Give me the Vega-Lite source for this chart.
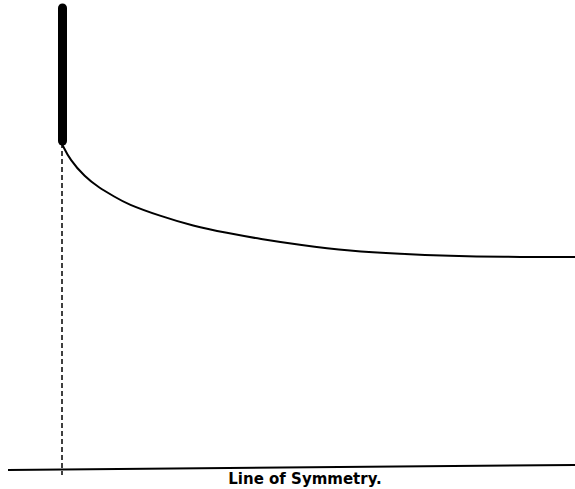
{
  "$schema": "https://vega.github.io/schema/vega-lite/v6.json",
  "width": 575,
  "height": 489,
  "padding": 0,
  "autosize": {"type": "none"},
  "background": "white",
  "config": {"view": {"stroke": null}},
  "layer": [
    {
      "data": {"values": [{"x": 8, "y": 19}, {"x": 575, "y": 24}]},
      "mark": {"type": "line", "color": "black", "strokeWidth": 2},
      "encoding": {
        "x": {"field": "x", "type": "quantitative", "scale": {"domain": [0, 575], "nice": false, "zero": false}, "axis": null},
        "y": {"field": "y", "type": "quantitative", "scale": {"domain": [0, 489], "nice": false, "zero": false}, "axis": null}
      }
    },
    {
      "data": {"values": [{"x": 62, "y": 346, "y2": 14}]},
      "mark": {"type": "rule", "color": "black", "strokeWidth": 1.5, "strokeDash": [5, 3]},
      "encoding": {
        "x": {"field": "x", "type": "quantitative"},
        "y": {"field": "y", "type": "quantitative"},
        "y2": {"field": "y2"}
      }
    },
    {
      "data": {"values": [
        {"x": 62, "y": 345}, {"x": 70, "y": 329}, {"x": 85, "y": 312}, {"x": 98, "y": 302},
        {"x": 115, "y": 292}, {"x": 127, "y": 285}, {"x": 160, "y": 273},
        {"x": 193, "y": 263}, {"x": 227, "y": 256}, {"x": 260, "y": 250}, {"x": 300, "y": 244},
        {"x": 350, "y": 238}, {"x": 400, "y": 235}, {"x": 450, "y": 233}, {"x": 500, "y": 232},
        {"x": 575, "y": 232}
      ]},
      "mark": {"type": "line", "color": "black", "strokeWidth": 2, "interpolate": "basis"},
      "encoding": {
        "x": {"field": "x", "type": "quantitative"},
        "y": {"field": "y", "type": "quantitative"}
      }
    },
    {
      "data": {"values": [{"x": 62.5, "y": 481, "y2": 348}]},
      "mark": {"type": "rule", "color": "black", "strokeWidth": 9, "strokeCap": "round"},
      "encoding": {
        "x": {"field": "x", "type": "quantitative"},
        "y": {"field": "y", "type": "quantitative"},
        "y2": {"field": "y2"}
      }
    },
    {
      "data": {"values": [{"x": 305, "y": 5, "label": "Line of Symmetry."}]},
      "mark": {"type": "text", "color": "black", "font": "DejaVu Sans", "fontWeight": "bold", "fontSize": 15, "align": "center", "baseline": "alphabetic"},
      "encoding": {
        "x": {"field": "x", "type": "quantitative"},
        "y": {"field": "y", "type": "quantitative"},
        "text": {"field": "label"}
      }
    }
  ]
}
